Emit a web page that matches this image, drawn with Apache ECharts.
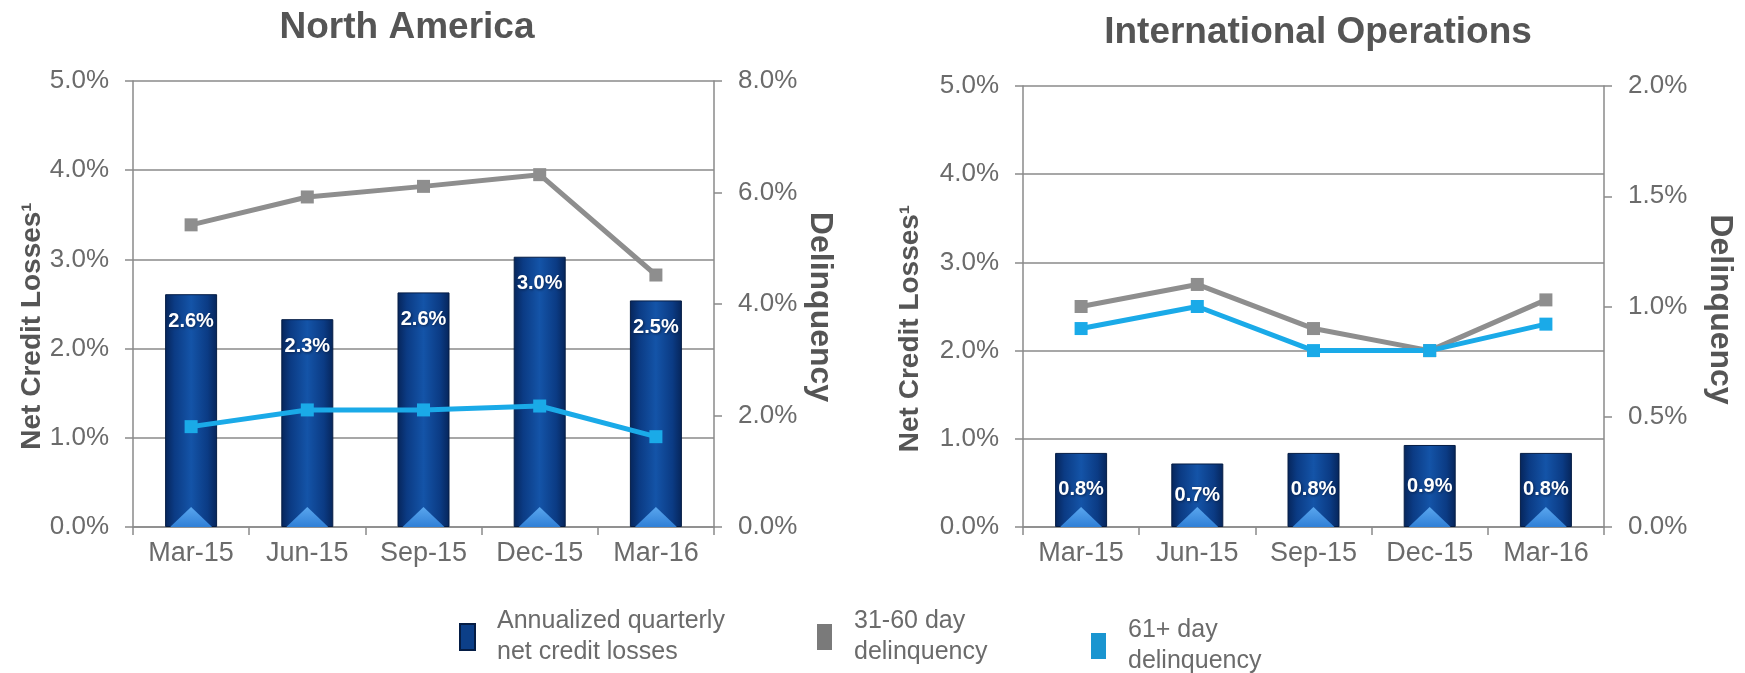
<!DOCTYPE html>
<html><head><meta charset="utf-8">
<script src="https://cdn.jsdelivr.net/npm/echarts@6/dist/echarts.min.js"></script>
<style>html,body{margin:0;padding:0;background:#fff}#c{width:1745px;height:673px}</style>
</head><body><div id="c"></div><script>
// ---- data ----
const categories = ['Mar-15', 'Jun-15', 'Sep-15', 'Dec-15', 'Mar-16'];
const naNetCreditLosses = [2.61, 2.33, 2.63, 3.03, 2.54];
const naDelinq3160 = [5.42, 5.92, 6.11, 6.32, 4.52];
const naDelinq61 = [1.80, 2.10, 2.10, 2.17, 1.62];
const intlNetCreditLosses = [0.84, 0.72, 0.84, 0.93, 0.84];
const intlDelinq3160 = [1.00, 1.10, 0.90, 0.80, 1.03];
const intlDelinq61 = [0.90, 1.00, 0.80, 0.80, 0.92];
const chartTitles = ['North America', 'International Operations'];
const leftAxisName = 'Net Credit Losses\u00B9';
const rightAxisName = 'Delinquency';
const seriesNames = ['Annualized quarterly\nnet credit losses', '31-60 day\ndelinquency', '61+ day\ndelinquency'];

// ---- styles ----
const FONT = '"Liberation Sans", Arial, sans-serif';
const GRID_C = '#8a8a8a';
const LABEL_C = '#6b6b6b';
const TITLE_C = '#555555';
const GRAY = '#8e8e8e';
const BLUE = '#1aaae8';
const pct = v => v.toFixed(1) + '%';

const barGrad = new echarts.graphic.LinearGradient(0, 0, 1, 0, [
  {offset: 0, color: '#06255a'},
  {offset: 0.18, color: '#0b3b84'},
  {offset: 0.5, color: '#1454a8'},
  {offset: 0.82, color: '#0b3b84'},
  {offset: 1, color: '#06255a'}
]);
const triGrad = new echarts.graphic.LinearGradient(0, 0, 0, 1, [
  {offset: 0, color: '#5aa6ee'},
  {offset: 1, color: '#2f7fd6'}
]);

function xAxis(gi) {
  return {
    type: 'category', gridIndex: gi, data: categories,
    axisLine: {lineStyle: {color: GRID_C, width: 1.5}},
    axisTick: {show: true, length: 8, lineStyle: {color: GRID_C, width: 1.5}},
    axisLabel: {color: LABEL_C, fontSize: 27, margin: 13, fontFamily: FONT}
  };
}
function leftY(gi, gap) {
  return {
    type: 'value', gridIndex: gi, position: 'left', min: 0, max: 5, interval: 1,
    axisLine: {show: true, lineStyle: {color: GRID_C, width: 1.5}},
    axisTick: {show: true, length: 8, lineStyle: {color: GRID_C, width: 1.5}},
    splitLine: {show: true, lineStyle: {color: GRID_C, width: 1.5}},
    axisLabel: {formatter: pct, color: LABEL_C, fontSize: 26, margin: 24, fontFamily: FONT},
    name: leftAxisName, nameLocation: 'middle', nameRotate: 90, nameGap: gap,
    nameTextStyle: {fontSize: 28, fontWeight: 'bold', color: TITLE_C, fontFamily: FONT, padding: [0, 44, 0, 0]}
  };
}
function rightY(gi, max, interval, gap) {
  return {
    type: 'value', gridIndex: gi, position: 'right', min: 0, max: max, interval: interval,
    axisLine: {show: true, lineStyle: {color: GRID_C, width: 1.5}},
    axisTick: {show: true, length: 8, lineStyle: {color: GRID_C, width: 1.5}},
    splitLine: {show: false},
    axisLabel: {formatter: pct, color: LABEL_C, fontSize: 26, margin: 24, fontFamily: FONT},
    name: rightAxisName, nameLocation: 'middle', nameRotate: -90, nameGap: gap,
    nameTextStyle: {fontSize: 32, fontWeight: 'bold', color: TITLE_C, fontFamily: FONT, padding: [0, 0, 0, 6]}
  };
}
function barSeries(xi, yi, data, labelPos, labelDist) {
  return [{
    type: 'bar', name: seriesNames[0], xAxisIndex: xi, yAxisIndex: yi, data: data,
    barWidth: 52, z: 2,
    itemStyle: {color: barGrad, borderColor: '#051d45', borderWidth: 1},
    label: {show: true, position: labelPos, distance: labelDist, formatter: p => pct(p.value),
      color: '#ffffff', fontWeight: 'bold', fontSize: 20, fontFamily: FONT,
      textShadowColor: '#06214d', textShadowBlur: 3, textShadowOffsetX: 1, textShadowOffsetY: 1}
  }, {
    type: 'pictorialBar', xAxisIndex: xi, yAxisIndex: yi, data: data, silent: true,
    symbol: 'triangle', symbolSize: [42, 20], symbolPosition: 'start', barWidth: 52, z: 3,
    itemStyle: {color: triGrad}
  }];
}
function lineSeries(name, xi, yi, data, color) {
  return {
    type: 'line', name: name, xAxisIndex: xi, yAxisIndex: yi, data: data,
    symbol: 'rect', symbolSize: 13, z: 5,
    lineStyle: {color: color, width: 5},
    itemStyle: {color: color}
  };
}
const legendText = {color: LABEL_C, fontSize: 25, fontFamily: FONT, lineHeight: 31, padding: [0, 0, 0, 17]};
function legend(name, color, left, top) {
  return {
    data: [{name: name, itemStyle: {color: color}}], left: left, top: top, padding: 0,
    icon: 'rect', itemWidth: 15, itemHeight: 26, selectedMode: false, textStyle: legendText
  };
}

const chart = echarts.init(document.getElementById('c'), null, {renderer: 'canvas'});
chart.setOption({
  animation: false,
  backgroundColor: '#ffffff',
  title: [
    {text: chartTitles[0], left: 402, top: 4, textAlign: 'center',
      textStyle: {fontSize: 37, fontWeight: 'bold', color: TITLE_C, fontFamily: FONT}},
    {text: chartTitles[1], left: 1313, top: 9, textAlign: 'center',
      textStyle: {fontSize: 37, fontWeight: 'bold', color: TITLE_C, fontFamily: FONT}}
  ],
  grid: [
    {left: 133, top: 81, width: 581, height: 446, outerBoundsMode: 'none'},
    {left: 1023, top: 86, width: 581, height: 441, outerBoundsMode: 'none'}
  ],
  xAxis: [xAxis(0), xAxis(1)],
  yAxis: [leftY(0, 87), rightY(0, 8, 2, 90), leftY(1, 99), rightY(1, 2, 0.5, 100)],
  legend: [
    legend(seriesNames[0], '#0c3f88', 459, 606),
    legend(seriesNames[1], '#7a7a7a', 817, 606),
    legend(seriesNames[2], '#1a95d0', 1091, 615)
  ],
  series: [
    ...barSeries(0, 0, naNetCreditLosses, 'insideTop', 17),
    lineSeries(seriesNames[1], 0, 1, naDelinq3160, GRAY),
    lineSeries(seriesNames[2], 0, 1, naDelinq61, BLUE),
    ...barSeries(1, 2, intlNetCreditLosses, 'inside', 0),
    lineSeries(seriesNames[1], 1, 3, intlDelinq3160, GRAY),
    lineSeries(seriesNames[2], 1, 3, intlDelinq61, BLUE)
  ]
});
</script></body></html>
